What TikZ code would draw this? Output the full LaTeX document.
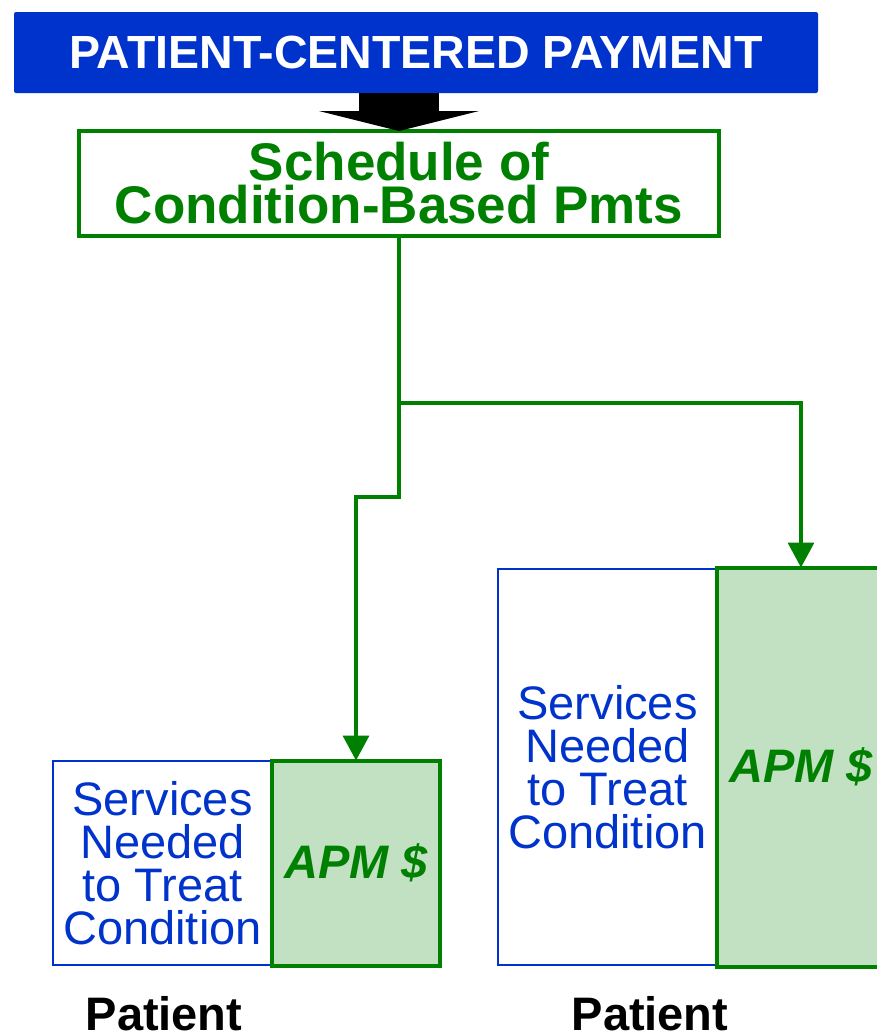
\documentclass[tikz,border=0pt]{standalone}
\usepackage{fontspec}
\setmainfont{Liberation Sans}
\usetikzlibrary{positioning, arrows.meta}
\definecolor{banblue}{RGB}{0,51,204}
\definecolor{pmtgreen}{RGB}{0,128,0}
\definecolor{apmfill}{RGB}{194,224,194}

\begin{document}
\begin{tikzpicture}[
  x=1pt, y=-1pt,
  every node/.style={inner sep=0pt, outer sep=0pt},
  banner/.style={fill=banblue, rounded corners=2pt, text=white, font=\bfseries\fontsize{46.5}{50}\selectfont, minimum width=804pt, minimum height=81pt},
  sched/.style ={draw=pmtgreen, line width=3.5pt, text=pmtgreen, align=center, font=\bfseries\fontsize{53}{43}\selectfont, minimum width=640pt, minimum height=105pt},
  svc/.style   ={draw=banblue, line width=1.5pt, fill=white, text=banblue, align=center, font=\fontsize{47}{43}\selectfont, minimum width=219pt},
  apm/.style   ={draw=pmtgreen, line width=4pt, fill=apmfill, text=pmtgreen, font=\bfseries\itshape\fontsize{47}{50}\selectfont, minimum width=168pt},
  who/.style   ={anchor=base, font=\bfseries\fontsize{47}{50}\selectfont},
  conn/.style  ={-{Triangle[length=25pt, width=26pt]}, draw=pmtgreen, line width=3.6pt},
  bigarr/.style={-{Triangle[length=20pt, width=160pt]}, line width=80pt, draw=black},
]
  \useasboundingbox (0,0) rectangle (877,1031);
  \clip (0,0) rectangle (877,1031);

  \node[banner] (pay) at (416,52.5) {PATIENT-CENTERED PAYMENT};
  \node[sched]  (sched) at (399,183.5) {Schedule of\\Condition-Based Pmts};
  \draw[bigarr] (pay.south -| sched.north) -- (sched.north);

  % smaller condition
  \node[svc, minimum height=204pt] (svcL) at (162.5,863) {Services\\Needed\\to Treat\\Condition};
  \node[apm, minimum height=205pt, right=0pt of svcL] (apmL) {APM \$};
  % larger condition
  \node[svc, minimum height=396pt] (svcR) at (607.5,767) {Services\\Needed\\to Treat\\Condition};
  \node[apm, minimum height=399pt, right=0pt of svcR] (apmR) {APM \$};

  \coordinate (split) at (sched.south |- 0,403);
  \draw[conn] (sched.south) -- (split) -| (apmR.north);
  \draw[conn] (split) -- ++(0,94) -| (apmL.north);

  \node[who] (patL) at (164,1030) {Patient};
  \node[who] (patR) at (650,1030) {Patient};
\end{tikzpicture}
\end{document}
